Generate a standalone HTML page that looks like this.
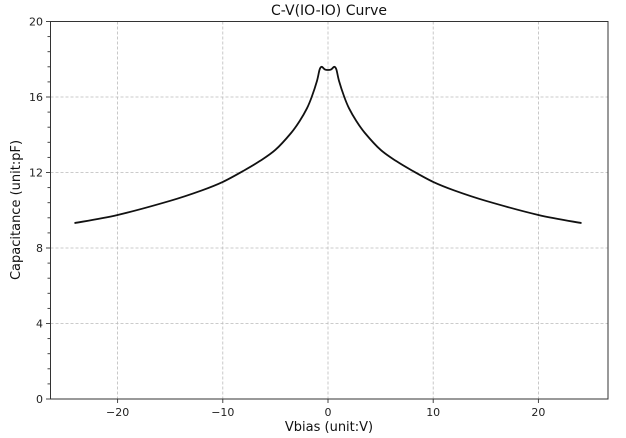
<!DOCTYPE html>
<html><head><meta charset="utf-8"><style>
html,body{margin:0;padding:0;background:#fff;}
svg{display:block;font-family:"DejaVu Sans","Liberation Sans",sans-serif;}
</style></head><body>
<svg id="s" width="626" height="438" viewBox="0 0 626 438" xmlns="http://www.w3.org/2000/svg">
<rect width="626" height="438" fill="#fff"/>
<g id="grid" stroke="#bbb" stroke-width="0.8" stroke-dasharray="3,2"></g>
<g id="ticks" stroke="#333" stroke-width="0.9"></g>
<g id="labels" font-size="11" fill="#222"></g>
<path id="curve" fill="none" stroke="#111" stroke-width="1.8"/>
<rect x="50.5" y="21.5" width="557.5" height="377.5" fill="none" stroke="#333" stroke-width="1"/>
<text x="329" y="15" font-size="14" text-anchor="middle" fill="#111">C-V(IO-IO) Curve</text>
<text x="329" y="431" font-size="13" text-anchor="middle" fill="#111">Vbias (unit:V)</text>
<text x="20" y="210" font-size="13" text-anchor="middle" fill="#111" transform="rotate(-90 20 210)">Capacitance (unit:pF)</text>
</svg>
<script>
const X=v=>328+v*10.52, Y=c=>399-c*18.875;
const ns="http://www.w3.org/2000/svg";
function el(p,t,a,txt){const e=document.createElementNS(ns,t);for(const k in a)e.setAttribute(k,a[k]);if(txt!==undefined)e.textContent=txt;document.getElementById(p).appendChild(e);}
[-20,-10,0,10,20].forEach(v=>{const x=X(v);el("grid","line",{x1:x,x2:x,y1:21.5,y2:399});el("ticks","line",{x1:x,x2:x,y1:399,y2:403});
el("labels","text",{x:x,y:416,"text-anchor":"middle"},(v<0?"\u2212":"")+Math.abs(v));});
[4,8,12,16].forEach(c=>{const y=Y(c);el("grid","line",{x1:50.5,x2:608,y1:y,y2:y});});
for(let c=0;c<=20.01;c+=0.8){const y=Y(c);const maj=Math.abs(c/4-Math.round(c/4))<0.01;el("ticks","line",{x1:maj?46:47.5,x2:50.5,y1:y,y2:y});}
[0,4,8,12,16,20].forEach(c=>el("labels","text",{x:43,y:Y(c)+4,"text-anchor":"end"},c));
const half=[[0,17.43],[0.3,17.46],[0.6,17.6],[0.8,17.45],[1.05,16.85],[1.55,16.0],[2,15.4],[2.67,14.75],[3.5,14.1],[5,13.2],[6.5,12.6],[8,12.1],[10,11.5],[12,11.05],[15,10.5],[20,9.75],[24.1,9.32]];
const pts=[];for(let i=half.length-1;i>0;i--)pts.push([-half[i][0],half[i][1]]);half.forEach(p=>pts.push(p));
const P=pts.map(p=>[X(p[0]),Y(p[1])]);
let d="M"+P[0][0]+","+P[0][1];
for(let i=0;i<P.length-1;i++){const p0=P[Math.max(0,i-1)],p1=P[i],p2=P[i+1],p3=P[Math.min(P.length-1,i+2)];
const c1=[p1[0]+(p2[0]-p0[0])/6,p1[1]+(p2[1]-p0[1])/6],c2=[p2[0]-(p3[0]-p1[0])/6,p2[1]-(p3[1]-p1[1])/6];
d+=` C${c1[0]},${c1[1]} ${c2[0]},${c2[1]} ${p2[0]},${p2[1]}`;}
document.getElementById("curve").setAttribute("d",d);
</script>
</body></html>
